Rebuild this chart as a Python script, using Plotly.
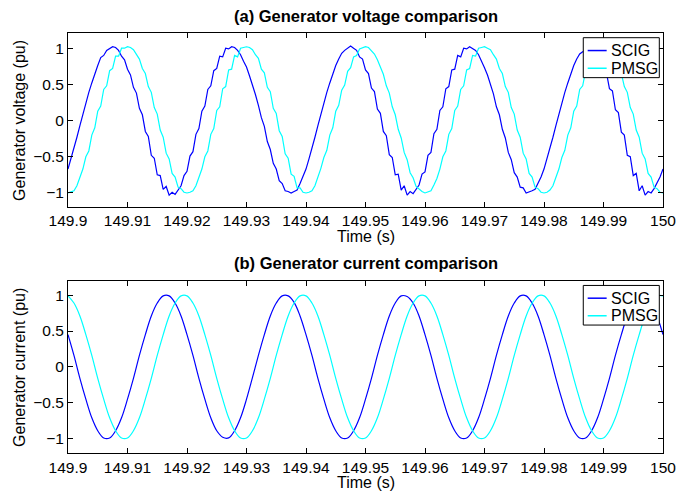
import plotly.graph_objects as go
from plotly.subplots import make_subplots

# ---------------- data ----------------
t_start = 149.9          # first sample time (s)
dt_voltage = 0.0005      # voltage sample spacing (s)
dt_current = 0.001       # current sample spacing (s)

scig_voltage = [
    -0.67, -0.53, -0.39, -0.23, -0.07,
    0.09, 0.24, 0.39, 0.52, 0.65, 0.76, 0.87, 0.90, 0.97, 0.99, 1.02, 1.01, 0.97, 0.89, 0.84, 0.71, 0.63, 0.46, 0.38, 0.17,
    0.08, -0.15, -0.22, -0.48, -0.52, -0.75, -0.76, -0.95, -0.91, -1.03, -0.99, -1.02, -0.95, -0.90, -0.76, -0.70, -0.49, -0.43, -0.19, -0.11,
    0.13, 0.20, 0.43, 0.48, 0.69, 0.72, 0.89, 0.88, 1.00, 0.99, 1.02, 1.01, 0.97, 0.91, 0.82, 0.74, 0.62, 0.50, 0.36, 0.21,
    0.04, -0.08, -0.29, -0.40, -0.59, -0.67, -0.83, -0.87, -0.97, -0.98, -1.00, -0.98, -0.96, -0.87, -0.78, -0.67, -0.53, -0.39, -0.23, -0.07,
    0.09, 0.24, 0.39, 0.52, 0.65, 0.76, 0.85, 0.93, 0.97, 1.00, 1.03, 1.00, 0.97, 0.88, 0.85, 0.70, 0.65, 0.45, 0.40, 0.16,
    0.10, -0.15, -0.21, -0.47, -0.51, -0.75, -0.74, -0.96, -0.90, -1.03, -0.98, -1.01, -0.95, -0.89, -0.74, -0.71, -0.48, -0.44, -0.18, -0.12,
    0.14, 0.19, 0.44, 0.47, 0.70, 0.71, 0.90, 0.88, 1.00, 0.99, 1.02, 1.00, 0.97, 0.91, 0.83, 0.73, 0.63, 0.49, 0.37, 0.19,
    0.08, -0.12, -0.24, -0.44, -0.54, -0.72, -0.78, -0.92, -0.93, -1.00, -0.99, -0.97, -0.95, -0.87, -0.78, -0.67, -0.53, -0.39, -0.23, -0.07,
    0.09, 0.24, 0.39, 0.52, 0.65, 0.76, 0.85, 0.92, 0.95, 0.99, 1.01, 1.00, 0.97, 0.87, 0.86, 0.69, 0.66, 0.44, 0.41, 0.15,
    0.11, -0.16, -0.20, -0.48, -0.50, -0.76, -0.73, -0.97, -0.90, -1.03, -0.98, -1.00, -0.94, -0.87, -0.78, -0.67,
]

pmsg_voltage = [
    -1.00, -0.99, -0.97, -0.90, -0.79, -0.67, -0.50, -0.42, -0.20, -0.10,
    0.13, 0.20, 0.43, 0.48, 0.69, 0.72, 0.89, 0.89, 1.00, 1.00, 1.02, 1.01, 0.98, 0.92, 0.85, 0.72, 0.65, 0.47, 0.39, 0.18,
    0.09, -0.13, -0.23, -0.45, -0.53, -0.73, -0.78, -0.92, -0.94, -0.99, -1.00, -0.99, -0.97, -0.90, -0.79, -0.67, -0.50, -0.42, -0.19, -0.11,
    0.14, 0.19, 0.44, 0.47, 0.70, 0.71, 0.90, 0.88, 1.00, 1.01, 1.02, 1.01, 0.98, 0.91, 0.86, 0.71, 0.66, 0.46, 0.40, 0.17,
    0.10, -0.14, -0.22, -0.46, -0.52, -0.74, -0.77, -0.93, -0.93, -0.99, -1.00, -0.99, -0.97, -0.90, -0.79, -0.66, -0.51, -0.41, -0.20, -0.10,
    0.13, 0.21, 0.42, 0.49, 0.68, 0.73, 0.88, 0.90, 0.99, 1.00, 1.02, 1.01, 0.97, 0.92, 0.84, 0.73, 0.64, 0.48, 0.38, 0.19,
    0.08, -0.12, -0.24, -0.44, -0.54, -0.72, -0.79, -0.91, -0.95, -0.98, -1.00, -0.99, -0.97, -0.89, -0.80, -0.67, -0.50, -0.42, -0.19, -0.11,
    0.14, 0.20, 0.43, 0.48, 0.70, 0.72, 0.90, 0.89, 1.00, 1.01, 1.02, 1.00, 0.98, 0.91, 0.85, 0.72, 0.65, 0.47, 0.39, 0.18,
    0.09, -0.13, -0.23, -0.45, -0.53, -0.73, -0.78, -0.92, -0.94, -0.99, -1.00, -0.99, -0.96, -0.90, -0.79, -0.67, -0.51, -0.41, -0.20, -0.10,
    0.13, 0.20, 0.43, 0.48, 0.69, 0.72, 0.89, 0.89, 1.00, 1.00, 1.02, 1.01, 0.98, 0.92, 0.85, 0.72, 0.65, 0.47, 0.39, 0.18,
    0.09, -0.13, -0.23, -0.45, -0.53, -0.73, -0.78, -0.92, -0.94, -0.99, -1.00,
]

scig_current = [
    0.45, 0.16, -0.16, -0.45, -0.71, -0.89, -0.99, -0.99, -0.89, -0.71, -0.45, -0.16, 0.16, 0.45, 0.71, 0.89, 0.99, 0.99, 0.89, 0.71,
    0.45, 0.16, -0.16, -0.45, -0.71, -0.89, -0.98, -0.99, -0.89, -0.71, -0.45, -0.15, 0.16, 0.45, 0.71, 0.89, 0.99, 0.99, 0.90, 0.71,
    0.45, 0.16, -0.16, -0.45, -0.71, -0.89, -0.99, -0.99, -0.89, -0.71, -0.45, -0.16, 0.16, 0.45, 0.71, 0.89, 0.99, 0.98, 0.89, 0.71,
    0.45, 0.16, -0.16, -0.45, -0.71, -0.89, -0.99, -0.99, -0.89, -0.71, -0.45, -0.16, 0.16, 0.45, 0.71, 0.89, 0.99, 0.99, 0.89, 0.71,
    0.45, 0.16, -0.16, -0.45, -0.71, -0.89, -0.99, -0.99, -0.89, -0.71, -0.45, -0.16, 0.16, 0.45, 0.71, 0.89, 0.99, 0.99, 0.89, 0.71,
    0.45,
]

pmsg_current = [
    0.99, 0.89, 0.71, 0.45, 0.16, -0.16, -0.45, -0.71, -0.89, -0.99, -0.99, -0.89, -0.71, -0.45, -0.16, 0.16, 0.45, 0.71, 0.89, 0.99,
    0.99, 0.89, 0.71, 0.45, 0.16, -0.16, -0.45, -0.71, -0.89, -0.99, -0.99, -0.89, -0.71, -0.45, -0.16, 0.16, 0.45, 0.71, 0.89, 0.99,
    0.99, 0.89, 0.71, 0.45, 0.16, -0.16, -0.45, -0.71, -0.89, -0.99, -0.99, -0.89, -0.71, -0.45, -0.16, 0.16, 0.45, 0.71, 0.89, 0.99,
    0.99, 0.89, 0.71, 0.45, 0.16, -0.16, -0.45, -0.71, -0.89, -0.99, -0.99, -0.89, -0.71, -0.45, -0.16, 0.16, 0.45, 0.71, 0.89, 0.99,
    0.99, 0.89, 0.71, 0.45, 0.16, -0.16, -0.45, -0.71, -0.89, -0.99, -0.99, -0.89, -0.71, -0.45, -0.16, 0.16, 0.45, 0.71, 0.89, 0.99,
    0.99,
]

x_tickvals = [149.9, 149.91, 149.92, 149.93, 149.94, 149.95, 149.96, 149.97, 149.98, 149.99, 150.0]
x_ticktext = ["149.9", "149.91", "149.92", "149.93", "149.94", "149.95", "149.96", "149.97", "149.98", "149.99", "150"]
y_tickvals = [-1, -0.5, 0, 0.5, 1]
y_ticktext = ["\u22121", "\u22120.5", "0", "0.5", "1"]

series_names = ["SCIG", "PMSG"]
titles = ["(a) Generator voltage comparison", "(b) Generator current comparison"]
y_titles = ["Generator voltage (pu)", "Generator current (pu)"]
x_title = "Time (s)"

# ---------------- styles ----------------
BLUE = "#0000FF"
CYAN = "#00FFFF"
COLORS = [BLUE, CYAN]
FONT = "Liberation Sans, Arial, Helvetica, sans-serif"
LW = 1.2

fig = make_subplots(rows=2, cols=1, vertical_spacing=0.0)

fig.add_trace(go.Scatter(x0=t_start, dx=dt_voltage, y=scig_voltage, mode="lines", name=series_names[0],
                         line=dict(color=BLUE, width=LW)), row=1, col=1)
fig.add_trace(go.Scatter(x0=t_start, dx=dt_voltage, y=pmsg_voltage, mode="lines", name=series_names[1],
                         line=dict(color=CYAN, width=LW)), row=1, col=1)
fig.add_trace(go.Scatter(x0=t_start, dx=dt_current, y=scig_current, mode="lines", name=series_names[0],
                         line=dict(color=BLUE, width=LW, shape="spline", smoothing=1.0)), row=2, col=1)
fig.add_trace(go.Scatter(x0=t_start, dx=dt_current, y=pmsg_current, mode="lines", name=series_names[1],
                         line=dict(color=CYAN, width=LW, shape="spline", smoothing=1.0)), row=2, col=1)

axis_common = dict(showline=True, linecolor="black", linewidth=1, mirror="ticks", ticks="inside",
                   ticklen=5, tickcolor="black", showgrid=False, zeroline=False, automargin=False,
                   tickfont=dict(family=FONT, size=15.5, color="black"))

for r in (1, 2):
    fig.update_xaxes(range=[149.9, 150.0], tickmode="array", tickvals=x_tickvals, ticktext=x_ticktext,
                     row=r, col=1, **axis_common)
fig.update_yaxes(range=[-1.19, 1.21], tickmode="array", tickvals=y_tickvals, ticktext=y_ticktext,
                 row=1, col=1, **axis_common)
fig.update_yaxes(range=[-1.2, 1.2], tickmode="array", tickvals=y_tickvals, ticktext=y_ticktext,
                 row=2, col=1, **axis_common)

fig.update_layout(
    yaxis=dict(domain=[0.5864, 1.0]),
    yaxis2=dict(domain=[0.0, 0.410]),
    width=677, height=484,
    margin=dict(l=60, r=22, t=25, b=39, autoexpand=False),
    paper_bgcolor="white", plot_bgcolor="white",
    font=dict(family=FONT, size=16, color="black"),
    showlegend=False,
)

annots = [
    dict(text="<b>" + titles[0] + "</b>", x=0.5, y=1.0405, xref="paper", yref="paper",
         xanchor="center", yanchor="middle", showarrow=False, font=dict(size=16.5)),
    dict(text="<b>" + titles[1] + "</b>", x=0.5, y=0.452, xref="paper", yref="paper",
         xanchor="center", yanchor="middle", showarrow=False, font=dict(size=16.5)),
    dict(text=x_title, x=0.5, y=0.5143, xref="paper", yref="paper",
         xanchor="center", yanchor="middle", showarrow=False, font=dict(size=16)),
    dict(text=x_title, x=0.5, y=-0.0714, xref="paper", yref="paper",
         xanchor="center", yanchor="middle", showarrow=False, font=dict(size=16)),
    dict(text=y_titles[0], x=-0.0807, y=0.793, xref="paper", yref="paper", textangle=-90,
         xanchor="center", yanchor="middle", showarrow=False, font=dict(size=16)),
    dict(text=y_titles[1], x=-0.0807, y=0.205, xref="paper", yref="paper", textangle=-90,
         xanchor="center", yanchor="middle", showarrow=False, font=dict(size=16)),
]

# ---- MATLAB-style boxed legends (one per panel), drawn in the panel's domain coords ----
shapes = []
panel_refs = [("x domain", "y domain"), ("x2 domain", "y2 domain")]
box_x0, box_x1 = 0.866, 0.9938
line_x0, line_x1 = 0.8734, 0.9053
text_x = 0.9087
box_y_top, box_y_bot = 0.973, 0.743
entry_y = [0.899, 0.797]
for xr, yr in panel_refs:
    shapes.append(dict(type="rect", xref=xr, yref=yr, x0=box_x0, x1=box_x1, y0=box_y_bot, y1=box_y_top,
                       line=dict(color="black", width=1), fillcolor="white", layer="above"))
    for k, nm in enumerate(series_names):
        shapes.append(dict(type="line", xref=xr, yref=yr, x0=line_x0, x1=line_x1, y0=entry_y[k], y1=entry_y[k],
                           line=dict(color=COLORS[k], width=1.5), layer="above"))
        annots.append(dict(text=nm, xref=xr, yref=yr, x=text_x, y=entry_y[k], xanchor="left", yanchor="middle",
                           showarrow=False, font=dict(size=16)))

fig.update_layout(annotations=annots, shapes=shapes)

fig.write_html("out.html")
